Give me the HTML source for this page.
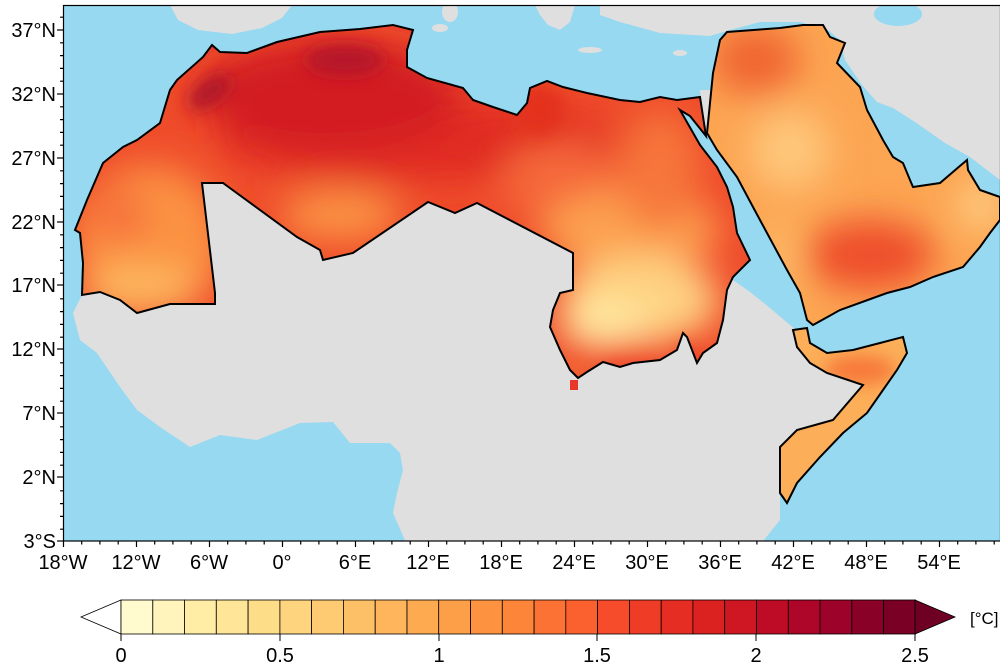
<!DOCTYPE html>
<html><head><meta charset="utf-8"><style>
html,body{margin:0;padding:0;background:#fff;width:1000px;height:667px;overflow:hidden}
svg text{font-family:"Liberation Sans",Arial,sans-serif;fill:#000}
</style></head><body>
<svg width="1000" height="667" viewBox="0 0 1000 667" xmlns="http://www.w3.org/2000/svg">
<defs>
<filter id="b" x="-50%" y="-50%" width="200%" height="200%"><feGaussianBlur stdDeviation="18"/></filter>
<filter id="b2" x="-50%" y="-50%" width="200%" height="200%"><feGaussianBlur stdDeviation="8"/></filter>
<clipPath id="mapclip"><rect x="63" y="5" width="937" height="536"/></clipPath>
<clipPath id="cm"><path id="pm" d="M212,45 L220,52 L247,53 L277,42 L320,32 L360,29 L393,25 L413,30 L407,50 L407,67 L427,78 L463,88 L473,100 L493,107 L517,115 L527,103 L530,88 L547,81 L563,87 L587,93 L620,100 L640,102 L660,97 L677,100 L700,97 L706,136 L690,116 L680,110 L700,145 L717,167 L727,187 L733,207 L737,233 L750,260 L733,277 L727,290 L723,320 L717,343 L703,353 L697,363 L687,337 L683,333 L677,350 L660,360 L633,363 L620,367 L603,362 L587,372 L578,378 L570,370 L560,350 L550,327 L553,310 L560,293 L573,290 L573,253 L477,203 L455,213 L428,202 L353,253 L323,260 L320,250 L297,237 L223,183 L202,183 L215,293 L215,304 L170,304 L148,310 L137,313 L120,300 L100,292 L82,295 L83,263 L80,233 L75,230 L87,200 L103,163 L123,147 L137,140 L160,123 L170,90 L177,80 L203,57 Z"/></clipPath>
<clipPath id="ca"><path id="pa" d="M707,133 L713,73 L720,40 L727,32 L780,28 L803,25 L823,25 L830,37 L845,43 L837,63 L860,87 L867,110 L883,140 L893,157 L903,163 L910,180 L913,187 L940,183 L967,160 L968,170 L980,190 L1000,197 L1000,220 L990,233 L980,247 L963,267 L933,277 L910,287 L887,293 L840,310 L813,325 L807,320 L800,293 L787,270 L767,233 L753,207 L737,177 L717,150 Z"/></clipPath>
<clipPath id="ch"><path id="ph" d="M793,330 L807,328 L810,343 L827,353 L853,350 L880,343 L903,337 L907,353 L897,370 L883,390 L867,413 L843,433 L820,457 L797,483 L787,503 L780,493 L780,447 L797,430 L833,420 L863,385 L827,373 L810,363 L797,347 Z"/></clipPath>
</defs>
<g clip-path="url(#mapclip)">
<rect x="63" y="5" width="937" height="536" fill="#97d9f1"/>
<path fill="#dfdfdf" d="M82,295 L73,313 L80,340 L97,353 L120,387 L137,410 L160,427 L190,447 L220,435 L257,440 L300,423 L333,422 L350,443 L390,443 L400,453 L403,470 L397,493 L393,513 L407,545 L760,545 L780,520 L780,447 L797,430 L833,420 L863,385 L827,373 L797,347 L800,333 L790,325 L770,308 L750,292 L733,280 L700,250 L500,200 L200,180 L100,260 Z"/>
<path fill="#dfdfdf" d="M170,5 L292,5 L282,18 L262,28 L232,34 L198,30 L178,20 Z"/>
<path fill="#dfdfdf" d="M600,5 L1000,5 L1000,180 L970,157 L945,143 L915,122 L893,108 L877,102 L862,85 L845,60 L840,40 L828,30 L800,22 L760,22 L730,30 L710,36 L660,33 L620,22 L600,15 Z"/>
<path fill="#dfdfdf" d="M700,90 L713,90 L710,133 L704,133 Z"/>
<ellipse cx="898" cy="14" rx="24" ry="12" fill="#97d9f1"/>
<ellipse cx="450" cy="12" rx="8" ry="10" fill="#dfdfdf"/>
<ellipse cx="440" cy="28" rx="8" ry="4" fill="#dfdfdf"/>
<path fill="#dfdfdf" d="M535,5 L575,5 L570,22 L560,30 L548,25 L540,15 Z"/>
<ellipse cx="590" cy="50" rx="12" ry="3" fill="#dfdfdf"/>
<ellipse cx="680" cy="53" rx="7" ry="3" fill="#dfdfdf"/>
<g clip-path="url(#cm)">
<rect x="60" y="20" width="700" height="360" fill="#ef4c2b"/>
<g filter="url(#b)">
<ellipse cx="420" cy="140" rx="200" ry="40" fill="#e02a22"/>
<ellipse cx="330" cy="95" rx="130" ry="55" fill="#d21e22"/>
<ellipse cx="150" cy="240" rx="75" ry="75" fill="#fb9243"/>
<ellipse cx="140" cy="290" rx="60" ry="25" fill="#fdb85e"/>
<ellipse cx="120" cy="215" rx="25" ry="25" fill="#f5693a"/>
<ellipse cx="340" cy="215" rx="60" ry="25" fill="#fb9545"/>
<ellipse cx="560" cy="180" rx="60" ry="40" fill="#f5683a"/>
<ellipse cx="630" cy="230" rx="90" ry="40" fill="#fca050"/>
<ellipse cx="640" cy="300" rx="80" ry="45" fill="#fed282"/>
<ellipse cx="605" cy="325" rx="45" ry="25" fill="#ffe8a0"/>
<ellipse cx="660" cy="170" rx="40" ry="60" fill="#f6763b"/>
</g>
<g filter="url(#b2)">
<ellipse cx="345" cy="60" rx="40" ry="15" fill="#b5142a"/>
<ellipse cx="210" cy="92" rx="25" ry="12" fill="#ae1229" transform="rotate(-35 210 92)"/>
<ellipse cx="540" cy="110" rx="25" ry="25" fill="#e3301f"/>
<ellipse cx="635" cy="370" rx="40" ry="10" fill="#ee4a2a"/>
<ellipse cx="690" cy="360" rx="15" ry="15" fill="#ee4a2a"/>
<ellipse cx="575" cy="368" rx="12" ry="10" fill="#f26633"/>
</g>
</g>
<use href="#pm" fill="none" stroke="#000" stroke-width="2"/>
<rect x="570" y="380" width="8" height="10" fill="#e8362a"/>
<g clip-path="url(#ca)">
<rect x="700" y="20" width="300" height="310" fill="#fca552"/>
<g filter="url(#b)">
<ellipse cx="755" cy="60" rx="45" ry="35" fill="#f06530"/>
<ellipse cx="790" cy="150" rx="40" ry="40" fill="#fec77b"/>
<ellipse cx="870" cy="255" rx="65" ry="35" fill="#ee4d2a"/>
<ellipse cx="980" cy="205" rx="20" ry="25" fill="#fed28a"/>
<ellipse cx="780" cy="260" rx="15" ry="40" fill="#fdbf6c"/>
</g>
</g>
<use href="#pa" fill="none" stroke="#000" stroke-width="2"/>
<g clip-path="url(#ch)">
<rect x="770" y="320" width="150" height="200" fill="#fcae58"/>
<g filter="url(#b2)">
<ellipse cx="860" cy="370" rx="35" ry="15" fill="#f77a3a"/>
</g>
</g>
<use href="#ph" fill="none" stroke="#000" stroke-width="2"/>
</g>
<rect x="63.5" y="5.5" width="937" height="535.5" fill="none" stroke="#000" stroke-width="1.2"/>
<g stroke="#000" stroke-width="1.2">
<line x1="57" y1="30" x2="63" y2="30"/><line x1="57" y1="94" x2="63" y2="94"/><line x1="57" y1="158" x2="63" y2="158"/><line x1="57" y1="222" x2="63" y2="222"/><line x1="57" y1="285" x2="63" y2="285"/><line x1="57" y1="349" x2="63" y2="349"/><line x1="57" y1="413" x2="63" y2="413"/><line x1="57" y1="477" x2="63" y2="477"/><line x1="57" y1="541" x2="63" y2="541"/>
<path d="M60,17.2H63M60,42.8H63M60,55.6H63M60,68.4H63M60,81.2H63M60,106.8H63M60,119.6H63M60,132.4H63M60,145.2H63M60,170.8H63M60,183.6H63M60,196.4H63M60,209.2H63M60,234.8H63M60,247.6H63M60,260.4H63M60,273.2H63M60,298.8H63M60,311.6H63M60,324.4H63M60,337.2H63M60,362.8H63M60,375.6H63M60,388.4H63M60,401.2H63M60,426.8H63M60,439.6H63M60,452.4H63M60,465.2H63M60,490.8H63M60,503.6H63M60,516.4H63M60,529.2H63"/>
<path d="M63.5,541V547M136.5,541V547M209.5,541V547M282.5,541V547M355.5,541V547M428.5,541V547M501.5,541V547M574.5,541V547M647.5,541V547M720.5,541V547M793.5,541V547M866.5,541V547M939.5,541V547"/>
<path d="M81.7,541V544.5M99.9,541V544.5M118.2,541V544.5M154.7,541V544.5M172.9,541V544.5M191.2,541V544.5M227.7,541V544.5M245.9,541V544.5M264.2,541V544.5M300.7,541V544.5M318.9,541V544.5M337.2,541V544.5M373.7,541V544.5M391.9,541V544.5M410.2,541V544.5M446.7,541V544.5M464.9,541V544.5M483.2,541V544.5M519.7,541V544.5M537.9,541V544.5M556.2,541V544.5M592.7,541V544.5M610.9,541V544.5M629.2,541V544.5M665.7,541V544.5M683.9,541V544.5M702.2,541V544.5M738.7,541V544.5M756.9,541V544.5M775.2,541V544.5M811.7,541V544.5M829.9,541V544.5M848.2,541V544.5M884.7,541V544.5M902.9,541V544.5M921.2,541V544.5M957.7,541V544.5M975.9,541V544.5M994.2,541V544.5"/>
</g>
<g font-size="20" text-anchor="end">
<text x="56" y="37">37°N</text><text x="56" y="101">32°N</text><text x="56" y="165">27°N</text><text x="56" y="229">22°N</text><text x="56" y="292">17°N</text><text x="56" y="356">12°N</text><text x="56" y="420">7°N</text><text x="56" y="484">2°N</text><text x="56" y="548">3°S</text>
</g>
<g font-size="20" text-anchor="middle">
<text x="63" y="569">18°W</text><text x="136" y="569">12°W</text><text x="209" y="569">6°W</text><text x="282" y="569">0°</text><text x="355" y="569">6°E</text><text x="428" y="569">12°E</text><text x="501" y="569">18°E</text><text x="574" y="569">24°E</text><text x="647" y="569">30°E</text><text x="720" y="569">36°E</text><text x="793" y="569">42°E</text><text x="866" y="569">48°E</text><text x="939" y="569">54°E</text>
</g>
<g stroke="#000" stroke-width="0.8">
<polygon points="121,600 81,617 121,634" fill="#fff"/>
<rect x="121" y="600" width="31.8" height="34" fill="#fffbcf"/>
<rect x="152.8" y="600" width="31.8" height="34" fill="#fff5bc"/>
<rect x="184.5" y="600" width="31.8" height="34" fill="#ffeda6"/>
<rect x="216.3" y="600" width="31.8" height="34" fill="#fee597"/>
<rect x="248.1" y="600" width="31.8" height="34" fill="#fedd89"/>
<rect x="279.9" y="600" width="31.8" height="34" fill="#fed47e"/>
<rect x="311.6" y="600" width="31.8" height="34" fill="#fecb72"/>
<rect x="343.4" y="600" width="31.8" height="34" fill="#fec066"/>
<rect x="375.2" y="600" width="31.8" height="34" fill="#feb55b"/>
<rect x="407" y="600" width="31.8" height="34" fill="#fdaa50"/>
<rect x="438.7" y="600" width="31.8" height="34" fill="#fd9f48"/>
<rect x="470.5" y="600" width="31.8" height="34" fill="#fd9341"/>
<rect x="502.3" y="600" width="31.8" height="34" fill="#fd8539"/>
<rect x="534.1" y="600" width="31.8" height="34" fill="#fc7234"/>
<rect x="565.8" y="600" width="31.8" height="34" fill="#fb612f"/>
<rect x="597.6" y="600" width="31.8" height="34" fill="#f64c2b"/>
<rect x="629.4" y="600" width="31.8" height="34" fill="#ee3c27"/>
<rect x="661.2" y="600" width="31.8" height="34" fill="#e52d23"/>
<rect x="692.9" y="600" width="31.8" height="34" fill="#db2221"/>
<rect x="724.7" y="600" width="31.8" height="34" fill="#ce1723"/>
<rect x="756.5" y="600" width="31.8" height="34" fill="#bf0c26"/>
<rect x="788.3" y="600" width="31.8" height="34" fill="#ae0628"/>
<rect x="820" y="600" width="31.8" height="34" fill="#9c022a"/>
<rect x="851.8" y="600" width="31.8" height="34" fill="#8a0128"/>
<rect x="883.6" y="600" width="31.8" height="34" fill="#7a0026"/>
<polygon points="915,600 955,617 915,634" fill="#6e0024"/>
</g>
<g stroke="#000" stroke-width="1"><path d="M121,634V641M280,634V641M439,634V641M597,634V641M756,634V641M915,634V641"/></g>
<g font-size="20" text-anchor="middle">
<text x="121" y="662">0</text><text x="280" y="662">0.5</text><text x="439" y="662">1</text><text x="597" y="662">1.5</text><text x="756" y="662">2</text><text x="915" y="662">2.5</text>
</g>
<text x="970" y="624" font-size="17">[°C]</text>
</svg>
</body></html>
